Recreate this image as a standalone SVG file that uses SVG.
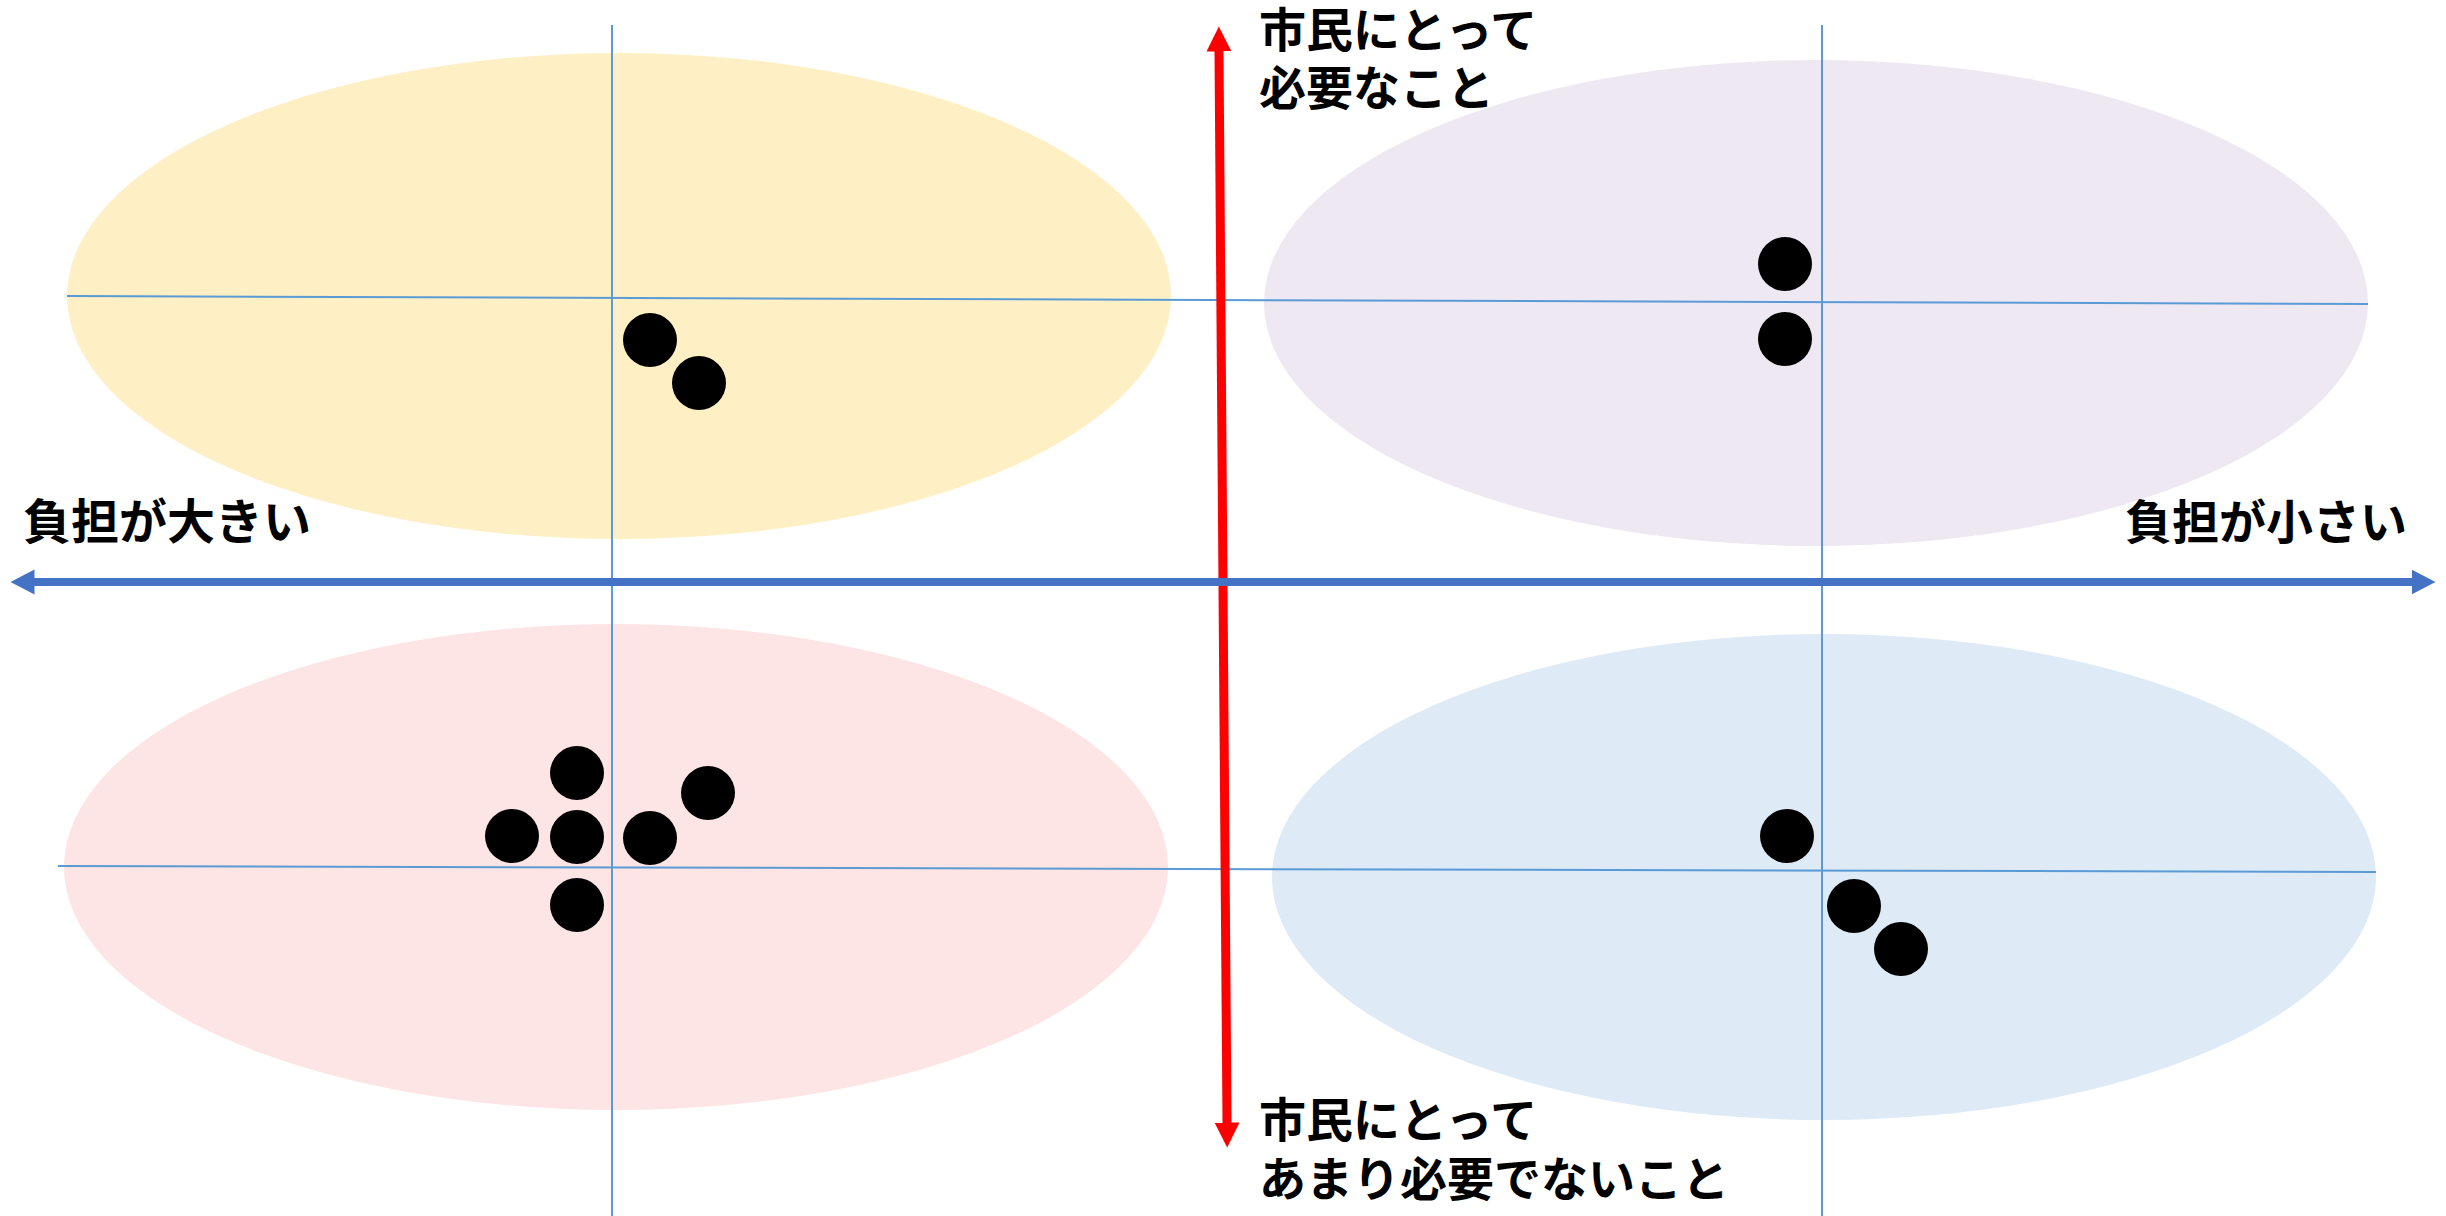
<svg xmlns="http://www.w3.org/2000/svg" width="2446" height="1216" viewBox="0 0 2446 1216">
<style>
.grid{stroke:#5B9BD5;stroke-width:2;fill:none}
.dot{fill:#000000}
.lbl{font-family:"Noto Sans CJK JP","Noto Sans",sans-serif;font-weight:700;fill:#000000}
</style>
<defs>
<marker id="headRed" markerUnits="userSpaceOnUse" markerWidth="27" markerHeight="27" refX="0.5" refY="12.5" orient="auto-start-reverse" viewBox="0 0 27 27">
<path d="M0,0 L25,12.5 L0,25 z" fill="#FF0000"/>
</marker>
<marker id="headBlue" markerUnits="userSpaceOnUse" markerWidth="27" markerHeight="27" refX="0.5" refY="12.5" orient="auto-start-reverse" viewBox="0 0 27 27">
<path d="M0,0 L24,12.5 L0,25 z" fill="#4472C4"/>
</marker>
</defs>
<rect width="2446" height="1216" fill="#FFFFFF"/>
<g id="zone-top-left"><ellipse cx="619" cy="296" rx="552" ry="243" fill="#FEEFC4"/></g>
<g id="zone-top-right"><ellipse cx="1816" cy="303" rx="552" ry="243" fill="#EEE8F3"/></g>
<g id="zone-bottom-left"><ellipse cx="616" cy="867" rx="552" ry="243" fill="#FDE4E5"/></g>
<g id="zone-bottom-right"><ellipse cx="1824" cy="877" rx="552" ry="243" fill="#DEEAF6"/></g>
<g id="gridlines">
<line class="grid" x1="612" y1="25" x2="612" y2="1216"/>
<line class="grid" x1="1822" y1="25" x2="1822" y2="1216"/>
<line class="grid" x1="67" y1="296" x2="2368" y2="304"/>
<line class="grid" x1="58" y1="866" x2="2376" y2="872"/>
</g>
<g id="dots-top-left">
<circle class="dot" cx="650" cy="340" r="27"/>
<circle class="dot" cx="699" cy="383" r="27"/>
</g>
<g id="dots-top-right">
<circle class="dot" cx="1785" cy="264" r="27"/>
<circle class="dot" cx="1785" cy="339" r="27"/>
</g>
<g id="dots-bottom-left">
<circle class="dot" cx="577" cy="773" r="27"/>
<circle class="dot" cx="512" cy="836" r="27"/>
<circle class="dot" cx="577" cy="837" r="27"/>
<circle class="dot" cx="650" cy="838" r="27"/>
<circle class="dot" cx="708" cy="793" r="27"/>
<circle class="dot" cx="577" cy="905" r="27"/>
</g>
<g id="dots-bottom-right">
<circle class="dot" cx="1787" cy="836" r="27"/>
<circle class="dot" cx="1854" cy="906" r="27"/>
<circle class="dot" cx="1901" cy="949" r="27"/>
</g>
<g id="connectors">
<line x1="1219" y1="51" x2="1227" y2="1123" stroke="#FF0000" stroke-width="9" marker-start="url(#headRed)" marker-end="url(#headRed)"/>
<line x1="34" y1="582" x2="2412" y2="582" stroke="#4472C4" stroke-width="8" marker-start="url(#headBlue)" marker-end="url(#headBlue)"/>
</g>
<g id="labels">
<text class="lbl" font-size="47"><tspan x="1259" y="47">市民にとって</tspan><tspan x="1259" y="105">必要なこと</tspan></text>
<text class="lbl" font-size="47"><tspan x="1259" y="1137">市民にとって</tspan><tspan x="1259" y="1196">あまり必要でないこと</tspan></text>
<text class="lbl" x="23" y="539" font-size="48">負担が大きい</text>
<text class="lbl" x="2125" y="539" font-size="47">負担が小さい</text>
</g>
</svg>
